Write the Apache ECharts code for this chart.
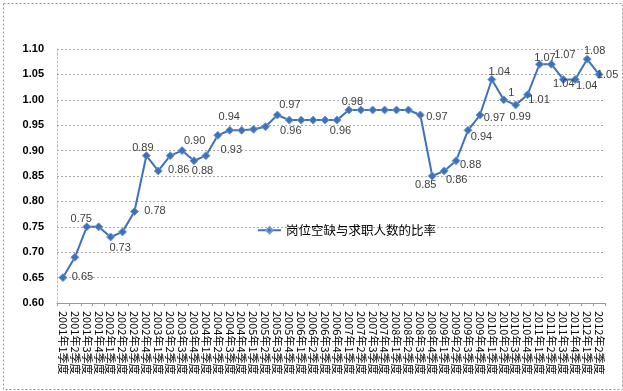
<!DOCTYPE html>
<html><head><meta charset="utf-8">
<script src="https://cdn.jsdelivr.net/npm/echarts@6/dist/echarts.min.js"></script>
<style>html,body{margin:0;padding:0;background:#fff}#c{width:623px;height:391px}</style>
</head><body><div id="c"></div>
<script>
var years = ['2001','2002','2003','2004','2005','2006','2007','2008','2009','2010','2011','2012'];
var categories = [];
for (var y = 0; y < years.length; y++) {
  for (var q = 1; q <= 4; q++) {
    if (years[y] === '2012' && q > 2) break;
    categories.push(years[y] + '年' + q + '季度');
  }
}
var seriesName = '岗位空缺与求职人数的比率';
var values = [0.65,0.69,0.75,0.75,0.73,0.74,0.78,0.89,0.86,0.89,0.90,0.88,0.89,0.93,0.94,0.94,0.942,0.947,0.97,0.96,0.96,0.96,0.96,0.96,0.98,0.98,0.98,0.98,0.98,0.98,0.97,0.85,0.86,0.88,0.94,0.97,1.04,1.00,0.99,1.01,1.07,1.07,1.04,1.04,1.08,1.05];
var labelTexts = {0:'0.65',2:'0.75',4:'0.73',6:'0.78',7:'0.89',8:'0.86',10:'0.90',11:'0.88',13:'0.93',14:'0.94',18:'0.97',19:'0.96',23:'0.96',24:'0.98',30:'0.97',31:'0.85',32:'0.86',33:'0.88',34:'0.94',35:'0.97',36:'1.04',37:'1',38:'0.99',39:'1.01',40:'1.07',41:'1.07',42:'1.04',43:'1.04',44:'1.08',45:'1.05'};
// label offsets (px) relative to the marker centre
var labelOffset = {0:[20,0],2:[-5,-7],4:[10,12],6:[21,0],7:[-3,-7],8:[21,0],10:[13,-9],11:[9,11],13:[14,15],14:[0,-13],18:[13,-10],19:[2,11],23:[4,11],24:[4,-7],30:[17,2],31:[-6,9],32:[13,10],33:[15,5],34:[14,7],35:[15,3],36:[8,-7],37:[8,-6],38:[5,13],39:[12,6],40:[6,-6],41:[14,-9],42:[1,5],43:[12,7],44:[8,-8],45:[9,1]};
var symSize = 8;

var data = values.map(function(v, i){
  var d = {value: v};
  if (labelTexts[i] !== undefined) {
    var o = labelOffset[i];
    d.label = {show: true, position: [symSize / 2 + o[0], symSize / 2 + o[1]],
      align: 'center', verticalAlign: 'middle', formatter: labelTexts[i]};
  }
  return d;
});

var chart = echarts.init(document.getElementById('c'));
chart.setOption({
  animation: false,
  textStyle: {fontFamily: 'Liberation Sans, Arial, sans-serif'},
  graphic: [{type:'rect', left: 1, top: 1, shape:{width: 619, height: 386},
    style:{fill:'none', stroke:'#999', lineWidth:1, lineDash:[2,2]}, silent:true}],
  grid: {left: 57, right: 18, top: 49, bottom: 88},
  legend: {
    data: [seriesName], left: 257, top: 224, padding: 0, itemWidth: 23, itemHeight: 8, itemGap: 4,
    textStyle: {fontFamily: 'Noto Sans CJK SC', fontSize: 12.5, color: '#000'}
  },
  xAxis: {
    type: 'category', data: categories, boundaryGap: true,
    axisLine: {lineStyle: {color: '#999'}},
    axisTick: {show: true, length: 3, lineStyle: {color: '#999'}},
    axisLabel: {rotate: -90, interval: 0, fontSize: 11, color: '#000', margin: 8,
      fontFamily: 'Noto Sans CJK SC'}
  },
  yAxis: {
    type: 'value', min: 0.6, max: 1.1, interval: 0.05,
    axisLine: {show: true, lineStyle: {color: '#bbb', type: [2,2]}},
    axisTick: {show: false},
    axisLabel: {fontSize: 11, fontWeight: 'bold', color: '#000', margin: 13,
      formatter: function(v){ return v.toFixed(2); }},
    splitLine: {lineStyle: {color: '#aaa', type: [2,2]}}
  },
  series: [{
    name: seriesName, type: 'line', data: data,
    symbol: 'diamond', symbolSize: symSize,
    lineStyle: {color: '#3d72bb', width: 2},
    itemStyle: {color: '#3d72bb', borderColor: '#6f98d0', borderWidth: 1},
    label: {show: false, fontSize: 11, color: '#404040'},
    labelLayout: {hideOverlap: false}
  }]
});
</script></body></html>
